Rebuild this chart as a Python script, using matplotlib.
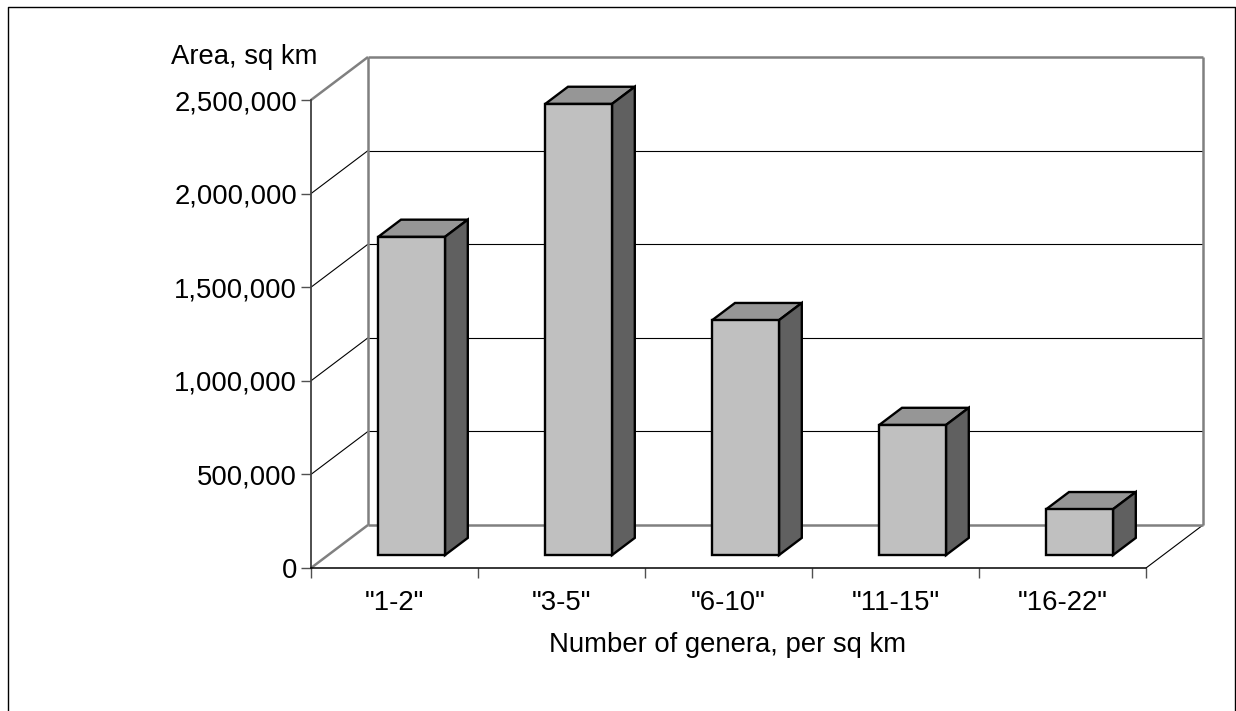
import matplotlib
matplotlib.use('Agg')
import matplotlib.pyplot as plt
from matplotlib.lines import Line2D
from matplotlib.patches import Polygon

plt.rcParams['font.family'] = ['Liberation Sans', 'DejaVu Sans']

categories = ['"1-2"', '"3-5"', '"6-10"', '"11-15"', '"16-22"']
areas = [1700000, 2410000, 1255000, 695000, 245000]
y_ticks = [0, 500000, 1000000, 1500000, 2000000, 2500000]

W, H = 1236, 711
# front plane of the fake 3D box, in pixels
LEFT, RIGHT, BOTTOM, TOP = 311, 1146, 568, 100
DEPTH_X = 57 / ((RIGHT - LEFT) / 5)
DEPTH_Y = 43 / (BOTTOM - TOP) * 2500000

FONT = 19.8
GRAY = '#808080'

fig = plt.figure(figsize=(W / 100, H / 100), dpi=100)
ax = fig.add_axes([LEFT / W, 1 - BOTTOM / H, (RIGHT - LEFT) / W, (BOTTOM - TOP) / H])
ax.set_xlim(0, 5)
ax.set_ylim(0, 2500000)


def proj(x, v, d):
    # d is depth, 0 = front plane, 1 = back wall
    return x + d * DEPTH_X, v + d * DEPTH_Y


def seg(p0, p1, color='black', lw=0.8, z=1):
    ax.plot([p0[0], p1[0]], [p0[1], p1[1]], color=color, lw=lw, clip_on=False,
            zorder=z, solid_capstyle='butt')


# walls
for v in y_ticks[1:-1]:
    seg(proj(0, v, 0), proj(0, v, 1))
    seg(proj(0, v, 1), proj(5, v, 1))
seg(proj(0, 2500000, 0), proj(0, 2500000, 1), GRAY, 1.8)
seg(proj(0, 0, 0), proj(0, 0, 1), GRAY, 1.8)
seg(proj(5, 0, 0), proj(5, 0, 1))
seg(proj(0, 0, 1), proj(5, 0, 1), GRAY, 1.8)
seg(proj(0, 2500000, 1), proj(5, 2500000, 1), GRAY, 1.8)
seg(proj(0, 0, 1), proj(0, 2500000, 1), GRAY, 1.8)
seg(proj(5, 0, 1), proj(5, 2500000, 1), GRAY, 1.8)

# bars
BAR_W = 0.4
D0, D1 = 0.3, 0.7
for i, val in enumerate(areas):
    x0 = i + 0.5 - BAR_W / 2
    x1 = x0 + BAR_W
    faces = [
        ([proj(x0, val, D0), proj(x1, val, D0), proj(x1, val, D1), proj(x0, val, D1)], '#969696'),
        ([proj(x1, 0, D0), proj(x1, 0, D1), proj(x1, val, D1), proj(x1, val, D0)], '#606060'),
        ([proj(x0, 0, D0), proj(x1, 0, D0), proj(x1, val, D0), proj(x0, val, D0)], '#C0C0C0'),
    ]
    for pts, col in faces:
        ax.add_patch(Polygon(pts, closed=True, facecolor=col, edgecolor='black', lw=1.7,
                             joinstyle='miter', clip_on=False, zorder=3))

# axes
for s in ['top', 'right']:
    ax.spines[s].set_visible(False)
ax.patch.set_visible(False)
ax.spines['left'].set_color('#404040')
ax.spines['left'].set_linewidth(1.3)
ax.spines['bottom'].set_color('black')
ax.spines['bottom'].set_linewidth(1.1)
ax.spines['left'].set_zorder(4)
ax.spines['bottom'].set_zorder(4)

ax.set_yticks(y_ticks)
ax.set_yticklabels([f'{v:,}' for v in y_ticks], fontsize=FONT)
ax.tick_params(axis='y', length=7.0, width=1.0, color='#505050', pad=3)

ax.set_xticks(range(6))
ax.set_xticklabels([])
ax.set_xticks([i + 0.5 for i in range(5)], minor=True)
ax.set_xticklabels(categories, minor=True, fontsize=FONT)
ax.tick_params(axis='x', which='major', length=7.2, width=1.0, color='#505050')
ax.tick_params(axis='x', which='minor', length=0, pad=15.6)

fig.text(728 / W, 1 - 652 / H, 'Number of genera, per sq km', ha='center', va='baseline', fontsize=FONT)
fig.text(244 / W, 1 - 64 / H, 'Area, sq km', ha='center', va='baseline', fontsize=FONT)

# outer chart border, the bottom edge falls off the picture
bx0, bx1, by0 = 8 / W, 1234.5 / W, 1 - 7 / H
fig.add_artist(Line2D([bx0, bx0, bx1, bx1], [0, by0, by0, 0], color='black', lw=1.0,
                      transform=fig.transFigure))

fig.savefig('out.png', dpi=100)
